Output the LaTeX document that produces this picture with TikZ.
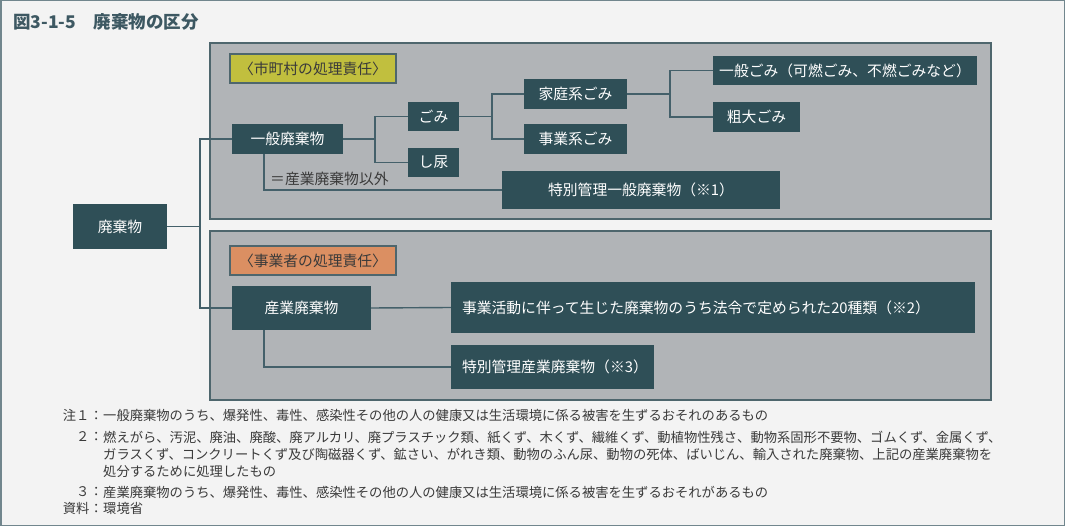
\documentclass[tikz,border=0pt]{standalone}
\usepackage{fontspec}
\newfontfamily\jp{Noto Sans CJK JP}
\definecolor{boxc}{HTML}{2F4F57}
\definecolor{panelc}{HTML}{B1B4B7}
\definecolor{edgec}{HTML}{4E666D}
\definecolor{linec}{HTML}{44606A}
\definecolor{bgc}{HTML}{F3F3F3}
\definecolor{framec}{HTML}{71868D}
\definecolor{yelc}{HTML}{C1BF3E}
\definecolor{orac}{HTML}{DB8F62}
\definecolor{txtc}{HTML}{3A3A3A}
\definecolor{titlec}{HTML}{3D5862}
\tikzset{
  wbox/.style={fill=boxc, text=white, inner sep=0pt, font=\jp\fontsize{14.8}{17}\selectfont},
  lbox/.style={draw=edgec, line width=1.2pt, inner sep=0pt, text=txtc, minimum width=166pt, minimum height=29pt, font=\jp\fontsize{14.8}{17}\selectfont},
  panel/.style={draw=edgec, fill=panelc, line width=1.3pt},
  conn/.style={draw=linec, line width=1.4pt},
  note/.style={inner sep=0pt, text=txtc, font=\jp\fontsize{13.3}{15}\selectfont},
}
\begin{document}
\begin{tikzpicture}[x=1pt,y=-1pt]
\useasboundingbox (0,0) rectangle (1065,526);
\fill[bgc] (0,0) rectangle (1065,526);
\draw[framec, line width=1.5pt] (0.75,0.75) rectangle (1064.25,525.25);
\node[anchor=west, inner sep=0pt, text=titlec, font=\jp\bfseries\fontsize{17.5}{20}\selectfont] (title) at (13,22) {図3-1-5　廃棄物の区分};
% panels
\draw[panel] (210,43) rectangle (991,219);
\draw[panel] (210,231) rectangle (991,400);
% labels
\node[lbox, fill=yelc] (lab1) at (313,68.5) {〈市町村の処理責任〉};
\node[lbox, fill=orac] (lab2) at (313,260.5) {〈事業者の処理責任〉};
% boxes
\node[wbox, minimum width=94pt, minimum height=45pt] (haiki) at (120,226.5) {廃棄物};
\node[wbox, minimum width=111pt, minimum height=30pt] (ippan) at (287.5,139) {一般廃棄物};
\node[wbox, minimum width=51pt, minimum height=29pt] (gomi) at (433.5,116.5) {ごみ};
\node[wbox, minimum width=51pt, minimum height=29pt] (shinyo) at (433.5,162.5) {し尿};
\node[wbox, minimum width=103pt, minimum height=30pt] (katei) at (575.5,94) {家庭系ごみ};
\node[wbox, minimum width=103pt, minimum height=30pt] (jigyo) at (575.5,139) {事業系ごみ};
\node[wbox, minimum width=264pt, minimum height=29pt] (ippangomi) at (845,70.5) {一般ごみ（可燃ごみ、不燃ごみなど）};
\node[wbox, minimum width=87pt, minimum height=30pt] (sodai) at (756.5,117) {粗大ごみ};
\node[wbox, minimum width=278pt, minimum height=38pt] (toku1) at (641,190) {特別管理一般廃棄物（※1）};
\node[wbox, minimum width=139pt, minimum height=44pt] (sangyo) at (301.5,308) {産業廃棄物};
\node[wbox, text width=502pt, inner xsep=11pt, align=left, minimum height=51pt] (katsudo) at (713,307.5) {事業活動に伴って生じた廃棄物のうち法令で定められた20種類（※2）};
\node[wbox, text width=181pt, inner xsep=11pt, align=left, minimum height=44pt] (toku2) at (552.5,367) {特別管理産業廃棄物（※3）};
\node[anchor=west, inner sep=0pt, text=txtc, font=\jp\fontsize{14.8}{17}\selectfont] (igai) at (270,179) {＝産業廃棄物以外};
% junction coordinates
\coordinate (t0) at (200,0);
\coordinate (t1) at (375,0);
\coordinate (t2) at (492,0);
\coordinate (t3) at (670,0);
\coordinate (t4) at (264,0);
% connectors
\draw[conn] (haiki.east) -- (haiki.east -| t0);
\draw[conn] (ippan.west) -- (ippan.west -| t0) -- (sangyo.west -| t0) -- (sangyo.west);
\draw[conn] (ippan.east) -- (ippan.east -| t1);
\draw[conn] (gomi.west) -- (gomi.west -| t1) -- (shinyo.west -| t1) -- (shinyo.west);
\draw[conn] (gomi.east) -- (gomi.east -| t2);
\draw[conn] (katei.west) -- (katei.west -| t2) -- (jigyo.west -| t2) -- (jigyo.west);
\draw[conn] (katei.east) -- (katei.east -| t3);
\draw[conn] (ippangomi.west) -- (ippangomi.west -| t3) -- (sodai.west -| t3) -- (sodai.west);
\draw[conn] (ippan.south -| t4) -- (toku1.west -| t4) -- (toku1.west);
\draw[conn] (sangyo.east) -- (katsudo.west);
\draw[conn] (sangyo.south -| t4) -- (toku2.west -| t4) -- (toku2.west);
% notes
\node[note, anchor=east] (n1l) at (103,415) {注１：};
\node[note, anchor=west] (n1) at (103,415) {一般廃棄物のうち、爆発性、毒性、感染性その他の人の健康又は生活環境に係る被害を生ずるおそれのあるもの};
\node[note, anchor=east] (n2l) at (103,437) {２：};
\node[note, anchor=west] (n2) at (103,437) {燃えがら、汚泥、廃油、廃酸、廃アルカリ、廃プラスチック類、紙くず、木くず、繊維くず、動植物性残さ、動物系固形不要物、ゴムくず、金属くず、};
\node[note, anchor=west] (n2b) at (103,454) {ガラスくず、コンクリートくず及び陶磁器くず、鉱さい、がれき類、動物のふん尿、動物の死体、ばいじん、輸入された廃棄物、上記の産業廃棄物を};
\node[note, anchor=west] (n2c) at (103,471) {処分するために処理したもの};
\node[note, anchor=east] (n3l) at (103,492) {３：};
\node[note, anchor=west] (n3) at (103,492) {産業廃棄物のうち、爆発性、毒性、感染性その他の人の健康又は生活環境に係る被害を生ずるおそれがあるもの};
\node[note, anchor=east] (srcl) at (103,508) {資料：};
\node[note, anchor=west] (src) at (103,508) {環境省};
\end{tikzpicture}
\end{document}
